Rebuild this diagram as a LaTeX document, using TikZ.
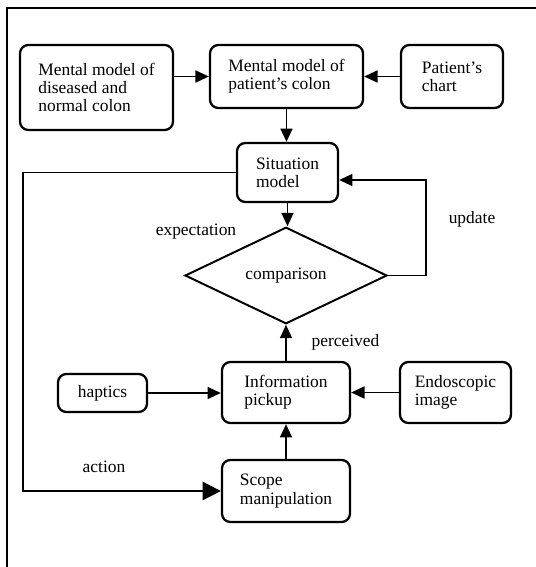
\documentclass[tikz,border=0pt]{standalone}
\usepackage{fontspec}
\setmainfont{Liberation Serif}
\usepackage{tikz}
\usetikzlibrary{arrows.meta}
\usetikzlibrary{shapes.geometric}
\tikzset{%
    box/.style={draw,rounded corners=6pt,line width=1.6pt,align=left,inner sep=0pt}
}

\begin{document}
\begin{tikzpicture}[
        x=0.025cm,y=-0.025cm,
        font=\fontsize{12.4}{13}\selectfont,
        box/.style={draw,rounded corners=6pt,line width=1.6pt,align=left,inner sep=0pt},
        dia/.style={draw,diamond,line width=1.4pt,inner sep=0pt},
        lbl/.style={inner sep=1pt},
        edge/.style={line width=1.3pt,-{Triangle[length=9.5pt,width=8.5pt]}},
        bigedge/.style={line width=1.3pt,-{Triangle[length=13pt,width=13pt]}}
        ]
        \useasboundingbox (0,0) rectangle (536,567);
        \draw[line width=1.5pt] (7,567) -- (7,8) -- (536,8);

        \node[box,minimum width=3.825cm,minimum height=2.125cm] (dis) at (96.5,87.5) {Mental model of\\diseased and\\normal colon};
        \node[box,minimum width=3.825cm,minimum height=1.575cm] (pat) at (286.5,76.5) {Mental model of\\patient's colon};
        \node[box,minimum width=2.55cm,minimum height=1.575cm] (chart) at (452,76.5) {Patient's\\chart};
        \node[box,minimum width=2.525cm,minimum height=1.475cm] (sit) at (287.5,172.5) {Situation\\model};
        \node[dia,minimum width=5.05cm,minimum height=1.775cm] (cmp) at (286,275.5) {comparison};
        \node[box,minimum width=3.2cm,minimum height=1.525cm] (info) at (286,392.5) {Information\\pickup};
        \node[box,minimum width=2.225cm,minimum height=0.95cm] (hap) at (102.5,393) {haptics};
        \node[box,minimum width=2.775cm,minimum height=1.525cm] (endo) at (455.5,392.5) {Endoscopic\\image};
        \node[box,minimum width=3.2cm,minimum height=1.55cm] (scope) at (286,491) {Scope\\manipulation};

        \node[lbl] (expl) at (196,232) {expectation};
        \node[lbl] (updl) at (472,219) {update};
        \node[lbl] (perl) at (345.5,342) {perceived};
        \node[lbl] (actl) at (104,467) {action};

        \coordinate (upd) at (426,180);
        \coordinate (act) at (23,491);

        \draw[edge] (dis.east |- pat) -- (pat.west);
        \draw[edge] (chart.west) -- (pat.east);
        \draw[edge] (pat.south) -- (pat.south |- sit.north);
        \draw[edge] (sit.south) -- (sit.south |- cmp.north);
        \draw[edge] (cmp.east) -| (upd) -- (upd -| sit.east);
        \draw[edge] (info.north) -- (cmp.south);
        \draw[edge] (hap.east) -- (hap.east -| info.west);
        \draw[edge] (endo.west) -- (info.east);
        \draw[edge] (scope.north) -- (info.south);
        \draw[bigedge] (sit.west) -| (act) -- (scope.west);
    \end{tikzpicture}
\end{document}
